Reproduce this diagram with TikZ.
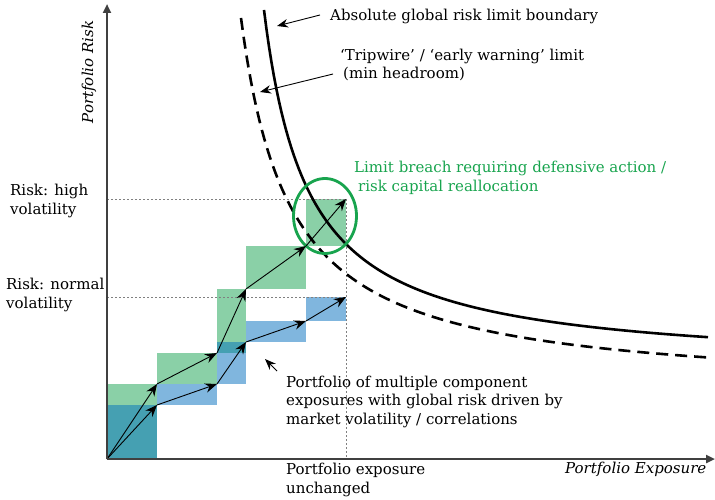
\documentclass[tikz,border=0pt]{standalone}
\usepackage{fontspec}
\setmainfont{DejaVu Serif}
\usetikzlibrary{arrows.meta}
\definecolor{gbox}{RGB}{138,208,167}
\definecolor{bbox}{RGB}{128,182,222}
\definecolor{tbox}{RGB}{69,160,178}
\definecolor{axisgray}{RGB}{64,64,64}
\definecolor{breachgreen}{RGB}{24,164,78}
\tikzset{
  txt/.style={inner sep=0pt, font=\fontsize{15}{18.7}\selectfont, align=left},
  itxt/.style={inner sep=0pt, font=\fontsize{15}{18.7}\selectfont\itshape},
  axisline/.style={draw=axisgray, line width=2.8pt, -{Triangle[length=9pt,width=8pt]}},
  patharrow/.style={draw=black, line width=0.9pt, -{Stealth[length=12pt,width=9.5pt,inset=4pt]}},
  ptr/.style={draw=black, line width=0.9pt, -{Stealth[length=11pt,width=8.5pt,inset=3.5pt]}},
  guide/.style={draw=gray, line width=0.8pt, dash pattern=on 2pt off 2pt},
  limitcurve/.style={draw=black, line width=2.6pt},
  warncurve/.style={draw=black, line width=2.6pt, dash pattern=on 12pt off 7pt},
  ring/.style={draw=breachgreen, line width=2.8pt},
}
\begin{document}
\begin{tikzpicture}[x=1pt,y=-1pt]
\useasboundingbox (0,0) rectangle (715,500);
% path coordinates
\coordinate (o) at (107,459);
\coordinate (g1) at (157,384);
\coordinate (g2) at (217,353);
\coordinate (g3) at (246,289);
\coordinate (g4) at (306,246);
\coordinate (g5) at (346,199);
\coordinate (b1) at (157,405);
\coordinate (b2) at (217,384);
\coordinate (b3) at (246,342);
\coordinate (b4) at (306,321);
\coordinate (b5) at (346,297);
% boxes
\fill[gbox] (107,384) rectangle (157,459);
\fill[gbox] (157,353) rectangle (217,384);
\fill[gbox] (217,289) rectangle (246,353);
\fill[gbox] (246,246) rectangle (306,289);
\fill[gbox] (306,199) rectangle (346,246);
\fill[bbox] (107,405) rectangle (157,459);
\fill[bbox] (157,384) rectangle (217,405);
\fill[bbox] (217,342) rectangle (246,384);
\fill[bbox] (246,321) rectangle (306,342);
\fill[bbox] (306,297) rectangle (346,321);
\fill[tbox] (107,405) rectangle (157,459);
\fill[tbox] (217,342) rectangle (246,353);
% guides
\coordinate (hy) at (107,199);
\coordinate (ny) at (107,297);
\coordinate (ax) at (346,459);
\draw[guide] (hy) -- (g5);
\draw[guide] (ny) -- (b5);
\draw[guide] (g5) -- (ax);
% limit curves (hyperbolae)
\draw[warncurve] plot[domain=241:708, samples=180] (\x, {393.1 - 183.82/((\x-192)/100)});
\draw[limitcurve] plot[domain=264:708, samples=180] (\x, {369.6 - 158.24/((\x-220)/100)});
% breach ring
\draw[ring] (325,216) ellipse [x radius=31.5pt, y radius=37.5pt];
% path arrows
\draw[patharrow] (o) -- (g1);
\draw[patharrow] (g1) -- (g2);
\draw[patharrow] (g2) -- (g3);
\draw[patharrow] (g3) -- (g4);
\draw[patharrow] (g4) -- (g5);
\draw[patharrow] (o) -- (b1);
\draw[patharrow] (b1) -- (b2);
\draw[patharrow] (b2) -- (b3);
\draw[patharrow] (b3) -- (b4);
\draw[patharrow] (b4) -- (b5);
% axes
\coordinate (ytop) at (107,4);
\coordinate (xend) at (715,459);
\draw[axisline] (o) -- (ytop);
\draw[axisline] (o) -- (xend);
% labels
\node[itxt, rotate=90] (yl) at (89,72) {Portfolio Risk};
\node[itxt, anchor=base west] (xl) at (565,473) {Portfolio Exposure};
\node[txt, anchor=base west] (rh) at (10,214) {Risk: high\\volatility};
\node[txt, anchor=base west] (rn) at (6,308) {Risk: normal\\volatility};
\node[txt, anchor=base west] (absl) at (330,20.5) {Absolute global risk limit boundary};
\node[txt, anchor=base west] (trip) at (340,79) {‘Tripwire’ / ‘early warning’ limit\\\hspace{3pt}(min headroom)};
\node[txt, text=breachgreen, anchor=base west] (brl) at (354,191) {Limit breach requiring defensive action /\\\hspace{4pt}risk capital reallocation};
\node[txt, anchor=base west] (pfl) at (286,424.5) {Portfolio of multiple component\\exposures with global risk driven by\\market volatility / correlations};
\node[txt, anchor=base west] (pel) at (286,493) {Portfolio exposure\\unchanged};
% pointers
\coordinate (abstip) at (277,26);
\coordinate (triptip) at (260,92);
\coordinate (pftip) at (265,359);
\draw[ptr] ([xshift=-10pt,yshift=5.5pt]absl.base west) -- (abstip);
\draw[ptr] ([xshift=-7pt,yshift=5pt]trip.base west) -- (triptip);
\draw[ptr] ([xshift=-9pt,yshift=53.5pt]pfl.base west) -- (pftip);
\end{tikzpicture}
\end{document}
